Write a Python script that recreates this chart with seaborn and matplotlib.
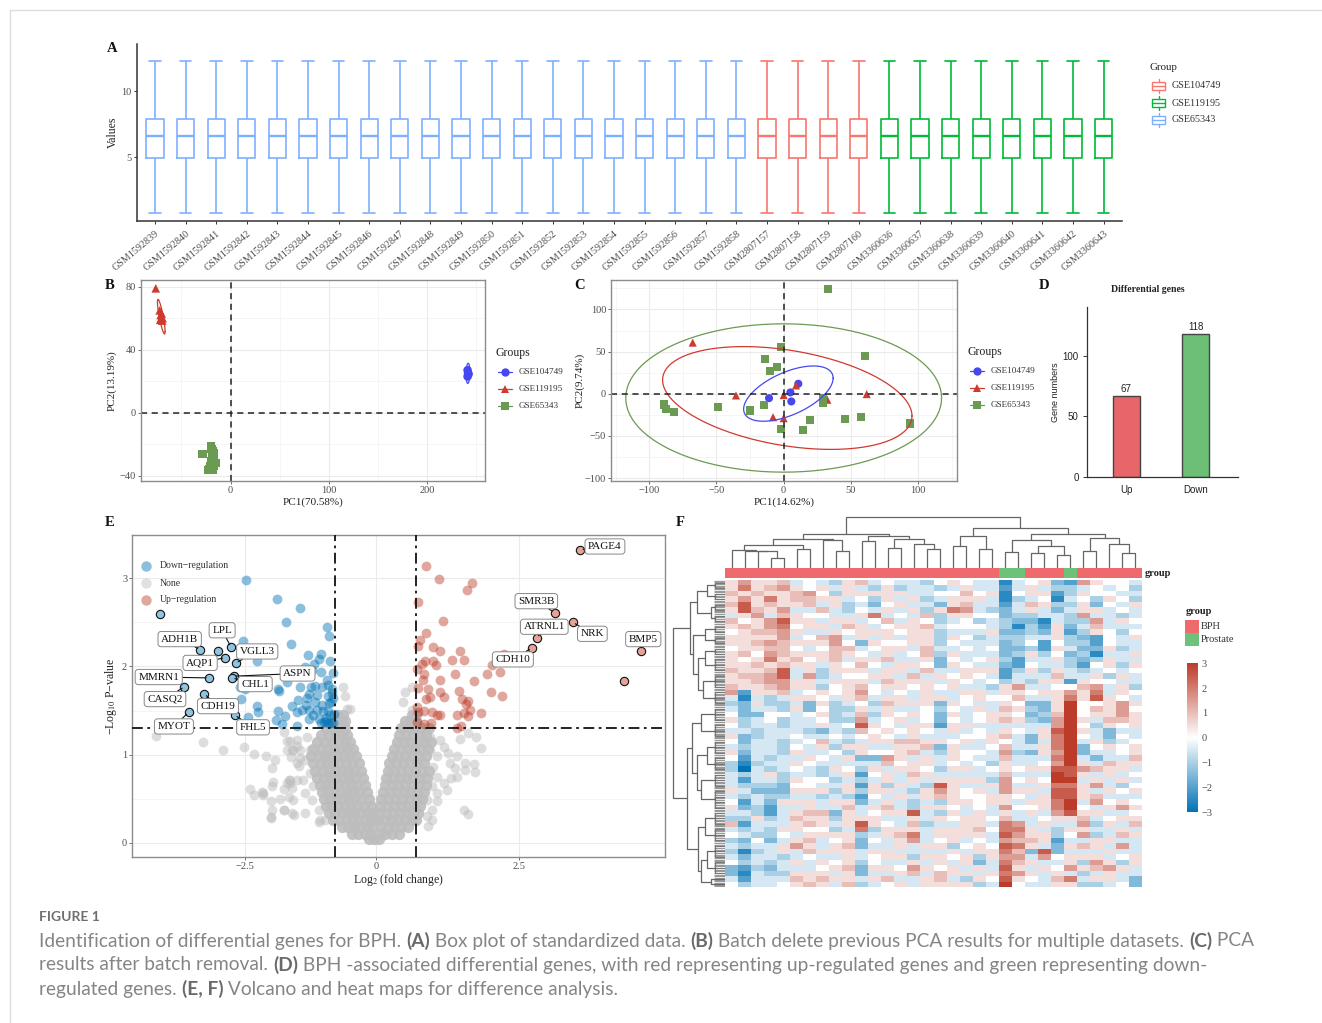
import numpy as np
import pandas as pd
import matplotlib
matplotlib.use('Agg')
import matplotlib.pyplot as plt
import seaborn as sns
from matplotlib.colors import LinearSegmentedColormap, ListedColormap
from matplotlib.patches import Rectangle

W, H = 1322, 1023

# panel A
samples_a = ['GSM15928%02d' % i for i in [39, 40, 41, 42, 43, 44, 45, 46, 47, 48, 49, 50, 51, 52, 53, 54, 55, 56, 57, 58]]
samples_a += ['GSM2807157', 'GSM2807158', 'GSM2807159', 'GSM2807160']
samples_a += ['GSM3360636', 'GSM3360637', 'GSM3360638', 'GSM3360639', 'GSM3360640', 'GSM3360641', 'GSM3360642', 'GSM3360643']
groups_a = ['GSE65343'] * 20 + ['GSE104749'] * 4 + ['GSE119195'] * 8
box_stats = [0.8, 4.92, 6.62, 7.87, 12.26]

# panel B
b_blue_x = [241, 241.5, 241, 242]
b_blue_y = [27, 25, 23, 24.5]
b_red_x = [-76, -72, -71, -70.5, -69, -71.5, -70, -69.5]
b_red_y = [79, 65, 62, 60, 60, 59, 63, 58.5]
b_green_x = [-28.2, -22.8, -20, -19.4, -19, -18, -19, -18, -20, -17, -16, -17, -19, -18, -20, -22, -21, -19, -15.5, -17]
b_green_y = [-26.2, -36.4, -21.6, -23, -25, -24.8, -27.9, -28, -31, -30, -32, -34, -33.2, -36, -35, -36, -34, -29, -32, -26]

# panel C
c_blue_x = [10.9, 5, 5.7, -10.9]
c_blue_y = [11.9, 1.6, -9.1, -5.2]
c_red_x = [-67.7, -35.5, 0, -7.9, 0, 9.2, 32.5, 61.8]
c_red_y = [60.7, -2, -1.6, -27.8, -29, 9.9, -7.1, -0.4]
c_green_x = [32.8, -1.7, -13.6, -10.4, -4.7, 60.8, -89.3, -87.3, -81.6, -48.6, -24.8, -14.9, -1.7, 14.1, 19.4, 45.9, 57.8, 94, 29.3, 29.3]
c_green_y = [124.6, 56, 40.9, 27, 31.7, 44.4, -12.7, -18.3, -21.4, -15.9, -19.8, -13.5, -41.7, -43.3, -30.6, -29.4, -27.8, -35.3, -4.8, -10.7]

# panel D
d_cats = ['Up', 'Down']
d_vals = [67, 118]

# panel E
gray_levels = [1.45, 1.38, 1.3, 1.22, 1.14, 1.06, 0.98, 0.9, 0.82, 0.74, 0.66, 0.58, 0.5, 0.42, 0.34, 0.26, 0.18, 0.1, 0.04]
gray_left = [
    [-.72, -.64], [-.78, -.68, -.6], [-.95, -.82, -.7, -.6], [-1.05, -.9, -.78, -.66, -.55],
    [-1.12, -.98, -.85, -.72, -.6, -.5], [-1.2, -1.05, -.92, -.8, -.68, -.56, -.44],
    [-1.25, -1.1, -.98, -.86, -.74, -.62, -.5, -.38], [-1.2, -1.06, -.94, -.82, -.7, -.58, -.46, -.33],
    [-1.16, -1.02, -.9, -.78, -.66, -.54, -.42, -.29], [-1.12, -1.0, -.88, -.76, -.64, -.52, -.4, -.26],
    [-1.08, -.96, -.84, -.72, -.6, -.48, -.36, -.21], [-1.04, -.92, -.8, -.68, -.56, -.44, -.32, -.17],
    [-1.0, -.88, -.76, -.64, -.52, -.4, -.28, -.14], [-.96, -.84, -.72, -.6, -.48, -.36, -.24, -.1],
    [-.9, -.78, -.66, -.54, -.42, -.3, -.18, -.07], [-.82, -.7, -.58, -.46, -.34, -.22, -.1, -.04],
    [-.66, -.54, -.42, -.3, -.18, -.08], [-.46, -.34, -.22, -.1], [-.14, -.05]]
gray_right = [
    [.62, .7], [.5, .6, .7], [.44, .56, .68, .8, .92], [.4, .52, .64, .76, .88],
    [.36, .48, .6, .72, .84, .96], [.31, .43, .55, .67, .79, .91], [.27, .39, .51, .63, .75, .87],
    [.23, .35, .47, .59, .71, .83], [.2, .32, .44, .56, .68, .8, .92], [.17, .29, .41, .53, .65, .77, .89],
    [.15, .27, .39, .51, .63, .75, .87], [.12, .24, .36, .48, .6, .72, .84], [.09, .21, .33, .45, .57, .69, .81],
    [.07, .19, .31, .43, .55, .67, .77], [.05, .17, .29, .41, .53, .65, .73], [.03, .15, .27, .39, .51, .63, .7],
    [.08, .2, .32, .44, .56], [.06, .16, .28, .4], [.05]]
gray_x = [-4.2, -3.3, -2.93, -2.52, -2.33, -2.1, -1.93, -1.98, -2.41, -2.33, -2.16, -2.16, -1.98, -1.97, -2.0, -1.98, -2.01,
          -1.83, -1.75, -1.76, -1.66, -1.65, -1.7, -1.61, -1.67, -1.56, -1.59, -1.51, -1.7, -1.58, -1.63, -1.65, -1.76, -1.51,
          -1.51, -1.45, -1.7, -1.61, -1.51, -1.32, -1.45, -1.36, -1.26, -1.48, -1.39, -1.26, -1.2, -1.36, -1.23, -1.1, -1.07,
          -.97, -1.36, -1.1, -1.64, -1.61, -1.75, -2.01, -2.17, -.56, -.59, -.63, -.5,
          .94, 1.12, 1.46, 1.61, 1.74, 1.84, 1.18, 1.26, 1.41, 1.29, 1.56, 1.71, 1.38, 1.56, 1.73, 1.41, 1.3, 1.18, 1.06, 1.0,
          1.06, .94, 1.24, 1.06, .97, .89, 1.06, .97, .89, .97, .91, 1.53, 1.6, .82, .51, .47, .62, .62, .48]
gray_y = [1.21, 1.14, 1.05, 1.09, 1.01, .98, .94, .85, .61, .54, .57, .54, .65, .69, .47, .37, .29,
          .5, .37, .61, .71, .68, .68, .62, .52, .32, .49, .71, 1.05, 1.05, .97, 1.15, 1.26, .9,
          1.1, .96, 1.15, 1.05, 1.17, 1.2, 1.05, .94, 1.05, .87, .71, .79, .64, .56, .49, .37, .26,
          .26, .34, .24, .71, .34, .37, .28, .58, 1.52, 1.66, 1.77, 1.52,
          1.2, 1.17, 1.18, 1.24, 1.2, 1.08, 1.09, 1.02, .99, .9, .91, .89, .85, .83, .8, .75, .73, .68, .75, .86,
          .98, 1.05, .6, .56, .64, .49, .47, .37, .3, .26, .19, .37, .33, 1.17, 1.71, 1.6, 1.77, 1.51, 1.35]
down_x = [-2.49, -1.9, -1.46, -1.73, -.93, -.9, -2.54, -1.62, -1.31, -1.05, -1.1, -.89, -1.18, -2.27, -1.35, -1.23, -1.06, -.82,
          -.93, -1.7, -2.6, -2.5, -1.88, -1.86, -1.46, -1.25, -1.16, -1.04, -.91, -.85, -1.29, -1.13, -.91, -.83, -1.5, -1.32,
          -1.16, -1.61, -1.34, -1.04, -.86, -2.58, -2.28, -2.25, -2.45, -1.88, -1.74, -1.91, -1.79, -1.51, -1.42, -1.29, -1.13,
          -1.01, -.91, -1.28, -1.51, -1.1, -.99, -.91, -.83, -.96, -.85, -.88, -.95, -1.05, -.8, -.9, -1.2, -.86]
down_y = [2.98, 2.77, 2.66, 2.5, 2.45, 2.35, 2.29, 2.26, 2.13, 2.14, 2.09, 2.06, 2.03, 2.06, 1.99, 1.96, 1.94, 1.93,
          1.85, 1.82, 1.77, 1.75, 1.75, 1.72, 1.77, 1.77, 1.78, 1.77, 1.79, 1.75, 1.69, 1.68, 1.66, 1.64, 1.62, 1.64,
          1.6, 1.55, 1.56, 1.56, 1.6, 1.63, 1.55, 1.48, 1.43, 1.5, 1.44, 1.39, 1.35, 1.48, 1.51, 1.51, 1.51,
          1.49, 1.49, 1.4, 1.33, 1.4, 1.37, 1.36, 1.36, 1.41, 1.7, 1.45, 1.38, 1.36, 1.46, 1.58, 1.45, 1.36]
up_x = [.87, 1.09, 1.68, 1.58, .74, 1.17, .88, .77, .73, 1.0, 1.11, 1.47, .85, .81, 1.0, 1.04, 1.32, 1.53, .72, .84, 1.38,
        2.03, 2.23, 2.17, 1.94, 1.71, 1.11, .82, .74, .9, 1.12, 1.44, 2.0, 2.2, .94, .87, 1.19, 1.5, 1.61, 1.57, .71, .84,
        .74, .98, 1.07, 1.11, 1.42, 1.54, 1.64, 1.61, 1.84, .72, .96, .83, 1.49, 1.42]
up_y = [3.14, 2.99, 2.95, 2.87, 2.73, 2.51, 2.38, 2.3, 2.23, 2.22, 2.18, 2.18, 2.06, 2.03, 2.06, 2.02, 2.07, 2.07, 1.97, 1.91, 1.91,
        2.02, 2.14, 1.94, 1.92, 1.84, 1.85, 1.85, 1.76, 1.75, 1.71, 1.72, 1.71, 1.66, 1.65, 1.63, 1.65, 1.63, 1.61, 1.57, 1.54, 1.49,
        1.48, 1.48, 1.45, 1.45, 1.45, 1.47, 1.51, 1.44, 1.47, 1.37, 1.36, 1.35, 1.33, 1.3]
ringed_down_x = [-4.12, -3.36, -2.77, -2.68, -2.88, -3.01, -3.19, -2.72, -2.75, -3.66, -3.28, -3.58, -2.7]
ringed_down_y = [2.6, 2.19, 2.22, 2.04, 2.1, 2.17, 1.87, 1.89, 1.87, 1.77, 1.69, 1.48, 1.45]
ringed_up_x = [3.57, 3.12, 3.44, 2.81, 2.72, 4.63, 4.33]
ringed_up_y = [3.32, 2.61, 2.5, 2.32, 2.21, 2.18, 1.84]
gene_names = ['ADH1B', 'LPL', 'VGLL3', 'AQP1', 'MMRN1', 'ASPN', 'CHL1', 'CASQ2', 'CDH19', 'MYOT', 'FHL5',
              'PAGE4', 'SMR3B', 'NRK', 'ATRNL1', 'CDH10', 'BMP5']
gene_x = [-3.36, -2.77, -2.68, -2.88, -3.19, -2.72, -2.75, -3.66, -3.28, -3.58, -2.7, 3.57, 3.12, 3.44, 2.81, 2.72, 4.63]
gene_y = [2.19, 2.22, 2.04, 2.1, 1.87, 1.89, 1.87, 1.77, 1.69, 1.48, 1.45, 3.32, 2.61, 2.5, 2.32, 2.21, 2.18]
gene_label_x = [-3.75, -2.94, -2.27, -3.36, -4.15, -1.5, -2.31, -4.03, -3.02, -3.86, -2.35, 4.0, 2.8, 3.78, 2.94, 2.39, 4.67]
gene_label_y = [2.31, 2.41, 2.17, 2.04, 1.88, 1.92, 1.8, 1.63, 1.55, 1.32, 1.31, 3.36, 2.74, 2.37, 2.45, 2.08, 2.31]

# panel F, values in half z-score units
heat_rows = [
    [1,3,1,1,2,-1,0,-1,-2,1,2,-1,0,-1,-1,-2,0,1,0,-1,-1,-5,-1,0,1,-3,-4,3,1,0,0,-1],
    [1,4,1,2,3,1,0,1,-1,1,-1,-2,1,-2,-1,-1,-2,-1,1,-1,-1,-4,-1,1,-1,-2,-2,-1,0,-1,0,-2],
    [2,1,2,1,1,2,3,0,-2,1,1,1,1,1,-1,-1,0,0,2,0,1,-5,0,1,1,-4,-2,1,0,0,-1,-1],
    [1,3,1,4,1,2,2,1,1,-1,0,-2,1,-1,1,-2,-1,1,1,1,-1,-5,-2,-1,0,-5,-1,0,-2,1,0,-2],
    [2,5,1,2,1,1,2,-1,1,-2,-1,-3,0,1,-1,-1,-3,1,2,-1,-1,-4,-1,2,1,-2,-2,1,-3,0,-1,1],
    [1,5,2,1,3,-1,-1,2,-1,-2,0,-1,1,-1,1,-2,1,4,3,-1,-2,-3,-1,1,-1,-3,-1,1,1,-1,0,-1],
    [-1,1,3,-1,2,1,0,0,-1,-1,1,4,-1,0,-1,2,-2,1,1,0,0,-3,-2,-2,-1,-1,-2,3,-1,-1,-2,-1],
    [2,0,1,3,5,1,1,-1,1,1,-1,0,2,-1,1,0,-2,-1,0,-2,-1,-2,-3,-3,-5,-1,-2,-2,3,-1,1,0],
    [1,2,1,3,4,0,1,1,-1,2,1,-1,0,1,1,2,-1,0,0,0,-1,-2,-5,-2,-4,1,-3,-1,2,-1,-1,-1],
    [0,1,2,2,3,1,-1,-1,1,0,1,1,1,0,1,1,-2,-1,-1,-1,1,-3,-3,-2,-3,1,-4,-2,1,0,-2,0],
    [1,1,1,1,3,-1,0,2,3,-1,1,-1,1,-1,1,1,-2,1,0,-2,-1,-2,-2,-1,-1,1,-2,-3,-4,0,-1,1],
    [1,1,2,3,2,1,1,1,3,0,-3,1,0,0,1,1,-2,0,-1,-1,-1,-3,-2,0,-4,0,-2,-2,-4,0,-1,-1],
    [0,1,1,2,2,0,-1,0,2,2,-1,0,1,1,-1,2,-1,-1,0,-1,0,-3,-3,-2,-4,1,-1,-3,-3,1,-2,-1],
    [1,2,0,3,2,1,1,1,2,1,0,-1,1,-1,0,2,-2,1,-1,-1,-1,-3,-2,1,-2,0,-3,-2,-5,-1,-1,1],
    [1,0,1,4,1,2,0,1,2,-1,1,1,2,-1,-1,1,-3,0,-1,0,1,-2,-4,-1,-1,1,-2,-3,-2,1,-1,-1],
    [1,1,2,1,2,1,1,-1,1,0,2,0,-1,1,1,0,-3,1,0,-1,-1,-3,-4,0,-1,-1,-2,-4,0,1,-2,1],
    [2,1,1,2,5,-1,1,-2,1,1,1,-1,1,1,-1,2,-1,-1,1,1,1,-4,-2,1,-2,1,-1,-2,-1,0,-1,0],
    [1,2,2,3,5,-1,3,-2,-1,0,0,1,1,-1,2,-1,1,0,1,0,-1,-4,-1,-1,-1,2,-1,-1,1,-2,1,-1],
    [1,1,2,3,3,1,1,-1,1,1,1,-1,2,1,1,1,-1,1,0,-1,0,-2,-1,-2,1,1,-4,1,0,0,-1,-1],
    [2,1,1,2,3,1,1,-2,0,1,2,0,1,1,0,1,0,1,-1,-1,-2,1,3,-1,-1,0,0,2,3,-1,1,-2],
    [3,-4,1,1,2,-1,0,1,0,1,3,0,-1,0,-1,1,-1,-1,1,1,-1,1,1,0,1,1,3,1,4,-1,1,0],
    [-1,-5,-1,-2,-1,1,1,0,-1,1,2,-1,1,1,-1,1,1,-1,0,1,0,0,2,-1,-1,1,4,1,5,1,0,-1],
    [-2,-3,1,-2,-2,-1,-3,1,-2,-1,0,-2,2,1,1,1,-3,1,0,-1,-1,1,0,-3,-3,1,6,0,0,1,3,1],
    [-1,-3,-1,-1,-2,1,-3,0,-2,-2,1,-1,1,-1,-1,0,-2,0,-1,1,-1,2,1,-2,-3,1,6,0,2,1,3,0],
    [0,-3,-3,0,0,-1,0,1,-2,-1,2,-2,1,0,1,0,-3,1,-1,0,1,1,0,-3,-2,2,6,0,1,1,3,1],
    [1,-2,-1,0,-2,-1,-1,0,-2,-2,3,-1,0,1,-1,0,-3,0,-1,0,1,2,1,-2,-3,3,6,1,-1,2,2,1],
    [0,-2,-1,-1,-2,-1,-1,1,-1,0,5,1,0,-1,1,1,-4,1,1,-1,-1,-1,-1,-1,-1,3,6,0,-2,1,0,1],
    [-1,-1,-2,-1,-1,-1,-2,-3,-1,-2,2,0,1,0,1,0,-1,1,-1,0,-1,1,0,-1,1,5,6,1,-1,-3,-1,-1],
    [1,-3,-2,-1,-1,0,-1,-1,0,-1,0,1,0,-1,1,-1,-1,-1,0,0,1,2,-1,-3,1,4,6,0,-1,-3,0,-1],
    [0,-3,-1,-1,-2,-1,0,2,-1,-2,-1,1,1,2,2,1,1,0,1,-1,1,0,-1,-3,-1,4,6,-1,1,-2,-1,0],
    [-1,-2,-1,-1,-2,0,-1,1,-2,1,1,-1,-1,1,1,2,-3,1,-1,-1,0,2,-1,-1,1,4,6,-3,0,1,0,1],
    [1,-3,-1,-1,-2,1,-1,-1,0,-2,1,0,0,1,2,-1,-2,1,0,0,-1,3,-2,-3,1,3,6,-3,-1,-1,0,1],
    [0,-4,-1,-2,-1,-1,1,0,-1,1,-3,-3,3,1,-1,1,-1,1,0,-1,-1,2,-1,-1,-1,4,6,-1,-3,-1,-1,2],
    [-2,-5,-2,-1,-1,1,0,-1,-1,-1,-1,-1,2,0,1,1,-1,0,-1,0,-2,1,-1,-1,0,3,6,1,-1,2,1,1],
    [-2,-6,-1,-2,-1,0,-1,-2,1,0,-2,1,-1,1,1,0,-2,1,1,-1,0,1,0,1,1,5,5,3,2,1,1,-1],
    [-1,-2,-1,1,-2,-1,-1,-2,-1,1,-4,0,1,-1,2,1,-1,-1,-1,-1,-1,2,-1,-1,-1,6,5,1,-1,1,-1,0],
    [-1,-4,-1,-1,-2,1,0,0,-2,-1,-2,-1,1,-1,1,-1,1,1,1,1,-2,3,0,1,0,6,6,-1,1,-1,1,-1],
    [-1,-2,-2,-2,-3,0,0,-1,-1,1,-4,1,-2,1,-1,-2,5,1,-1,-1,1,3,-1,-1,1,4,4,1,3,-1,-2,0],
    [1,-1,-3,-3,-3,1,1,1,-2,1,-2,1,1,-1,-2,1,3,1,0,1,-1,3,1,1,-1,5,5,1,-1,1,0,1],
    [-1,-2,-1,-2,-2,-1,-1,-2,-1,-2,-4,0,-1,1,-1,1,2,1,0,0,1,1,0,-1,1,5,5,1,2,-1,-1,-1],
    [0,-4,-1,-3,1,1,1,-1,1,1,-3,-1,1,-1,-2,-1,-2,1,1,0,1,1,-1,1,1,4,6,-1,3,0,1,0],
    [1,-3,-2,-4,-1,-1,1,-1,-1,2,-1,1,2,-1,-2,1,1,0,-1,0,-1,3,0,0,1,4,6,0,-1,1,3,1],
    [-1,-1,-2,-4,-1,1,2,2,-3,1,-1,0,1,1,5,-1,-2,1,-1,1,-1,1,-1,1,-1,3,5,1,1,-1,-1,0],
    [-2,-2,1,-2,-1,2,1,1,-2,1,1,1,-1,-1,1,-1,1,0,1,1,0,2,-1,-1,0,1,1,2,-1,0,1,1],
    [2,-4,-1,-1,-1,1,2,1,-1,1,5,1,0,-1,2,-2,-1,-1,1,1,-1,4,3,-1,1,-1,-1,3,-2,1,-1,2],
    [-1,-2,-1,-2,1,1,0,0,-2,-1,4,-2,1,1,1,-1,1,1,1,2,0,4,4,1,-1,-2,1,1,-1,-1,1,-1],
    [0,-1,-2,-2,0,-1,1,1,1,1,-2,-1,1,2,4,-1,1,1,1,1,-1,5,3,1,1,-2,0,3,-2,-1,2,1],
    [-2,-3,0,-3,-1,1,2,-1,0,1,-3,0,-1,1,3,-1,0,1,-1,0,-1,3,2,2,1,-4,-1,-1,1,1,-1,-1],
    [-1,-2,-1,-1,1,3,1,-1,1,2,-3,-1,-1,1,-1,1,1,-2,0,1,0,5,4,1,-1,-3,1,2,1,-1,3,-1],
    [-2,-5,-2,-1,1,-1,2,1,1,1,-1,1,1,-1,-1,-1,-1,1,-1,1,1,4,2,-3,5,-3,-1,-1,-1,1,-1,-1],
    [-1,-3,-1,-1,-2,-1,0,-1,-1,1,-1,0,1,1,-2,1,1,0,1,-2,1,3,3,-1,3,0,1,1,1,-1,0,1],
    [0,-2,-1,-2,-1,1,-1,1,0,1,-2,0,-1,-1,1,-1,1,-1,1,-3,-1,4,2,1,-1,-1,1,-2,3,1,-2,1],
    [-3,-4,-2,-3,-1,-1,-1,0,1,2,-3,1,1,0,3,1,0,1,-1,1,-1,5,1,-1,1,0,3,1,2,3,1,-1],
    [-3,-5,-1,-2,-2,1,1,1,-1,1,-3,-1,-1,1,2,-1,2,1,1,-1,1,4,3,1,-1,1,-1,-2,-1,1,-1,-1],
    [-1,-4,-1,-1,-1,2,1,2,1,1,-1,1,2,-1,-1,1,2,-1,-2,1,0,5,1,0,-1,2,4,-1,1,1,-1,-3],
    [0,-2,-1,-1,0,1,2,1,-1,2,-2,-1,0,1,-1,1,1,1,1,-2,-1,6,0,-1,-1,1,1,-2,-2,-1,0,-3],
]
sample_groups_f = [0] * 21 + [1, 1] + [0] * 3 + [1] + [0] * 5
n_genes = 185

# dendrogram merges as (height, child, child), a leaf is a (first, last) index range
col_tree = (51,
    (34,
        (28.5,
            (23,
                (18, 0, (16.5, 1, (16.5, 2, (9.5, 3, 4)))),
                (18.5, 5, 6)),
            (28, 7, (16.5, 8, 9))),
        (32,
            (26.5, 10, 11),
            (29, (20, 12, 13), (24, 14, (19, 15, 16))))),
    (40,
        (32, (22, 17, 18), (19, 19, 20)),
        (34,
            (28, (16, 21, 22), (22, (15, 23, 24), (13, 25, 26))),
            (30, (17, 27, 28), (24, 29, (15, 30, 31))))))
row_tree = (52,
    (35,
        (28, (18, (0, 1), (2, 3)), (14, (4, 5), (6, 7))),
        (32, (20, (8, 9), (10, 11)), (27, (20, (12, 13), (14, 16)), (22, (17, 19), (20, 22))))),
    (38,
        (33, (24, (23, 25), (26, 28)), (28, (18, (29, 31), (32, 34)), (24, (35, 37), (38, 41)))),
        (27, (20, (42, 44), (45, 47)), (24, (18, (48, 50), (51, 53)), (14, (54, 54), (55, 55))))))

caption_lines = [
    [('Identification of differential genes for BPH. ', 0), ('(A)', 1), (' Box plot of standardized data. ', 0), ('(B)', 1),
     (' Batch delete previous PCA results for multiple datasets. ', 0), ('(C)', 1), (' PCA', 0)],
    [('results after batch removal. ', 0), ('(D)', 1), (' BPH -associated differential genes, with red representing up-regulated genes and green representing down-', 0)],
    [('regulated genes. ', 0), ('(E, F)', 1), (' Volcano and heat maps for difference analysis.', 0)],
]

GROUP_COLORS = {'GSE104749': '#F8766D', 'GSE119195': '#00BA38', 'GSE65343': '#7FB0FF'}
PCA_COLORS = {'GSE104749': '#4747F0', 'GSE119195': '#CF3A2E', 'GSE65343': '#6B9A52'}
PCA_MARKERS = {'GSE104749': 'o', 'GSE119195': '^', 'GSE65343': 's'}
DOWN, UP, NONE = '#0072B5', '#BC3C29', '#BDBDBD'
TICK_GRAY = '#4d4d4d'

sns.set_theme(style='white')
plt.rcParams['font.family'] = ['Liberation Serif', 'DejaVu Sans']
plt.rcParams['mathtext.fontset'] = 'stix'
plt.rcParams['axes.unicode_minus'] = True

fig = plt.figure(figsize=(W / 100, H / 100), dpi=100)


def px_axes(x0, y0, x1, y1):
    return fig.add_axes([x0 / W, 1 - y1 / H, (x1 - x0) / W, (y1 - y0) / H])


def style_bw(ax, major_x, major_y, minor_x, minor_y):
    ax.set_xticks(major_x)
    ax.set_yticks(major_y)
    ax.set_xticks(minor_x, minor=True)
    ax.set_yticks(minor_y, minor=True)
    ax.grid(True, which='major', color='#ebebeb', lw=0.8)
    ax.grid(True, which='minor', color='#f2f2f2', lw=0.5)
    ax.set_axisbelow(True)
    ax.tick_params(which='major', length=2, width=0.6, color='#555555', labelsize=7.5, labelcolor=TICK_GRAY, pad=1.5,
                   bottom=True, left=True)
    ax.tick_params(which='minor', length=0)
    for s in ax.spines.values():
        s.set_color('#8c8c8c')
        s.set_linewidth(1.0)


def ellipse(ax, cx, cy, sx, sy, rho, color):
    t = np.linspace(0, 2 * np.pi, 200)
    ax.plot(cx + sx * np.cos(t), cy + sy * (rho * np.cos(t) + np.sqrt(1 - rho ** 2) * np.sin(t)), color=color, lw=0.9)


def pca_frame(blue, red, green):
    rows = [('GSE104749', blue), ('GSE119195', red), ('GSE65343', green)]
    return pd.concat([pd.DataFrame({'PC1': xy[0], 'PC2': xy[1], 'Groups': g}) for g, xy in rows])


# A
ax_a = px_axes(137, 44, 1122, 221)
df_a = pd.DataFrame([{'Sample': s, 'Group': g, 'Values': v} for s, g in zip(samples_a, groups_a) for v in box_stats])
sns.boxplot(data=df_a, x='Sample', y='Values', hue='Group', palette=GROUP_COLORS, fill=False, dodge=False, width=0.56,
            linewidth=1.2, fliersize=0, legend=False, ax=ax_a, capwidths=0.38, medianprops={'linewidth': 1.7})
ax_a.set_xlim(-0.59, 31.6)
ax_a.set_ylim(0.19, 13.55)
ax_a.set_yticks([5, 10])
ax_a.set_xlabel('')
ax_a.set_ylabel('Values', fontsize=8.5, labelpad=2, color='#222222')
ax_a.tick_params(length=2.5, width=0.7, color='#333333', labelsize=7.5, labelcolor=TICK_GRAY, pad=1.5, bottom=True, left=True)
ax_a.tick_params(axis='x', labelsize=7.3, pad=3)
plt.setp(ax_a.get_xticklabels(), rotation=40, ha='right', rotation_mode='anchor')
sns.despine(ax=ax_a)
for side in ['left', 'bottom']:
    ax_a.spines[side].set_color('#333333')
    ax_a.spines[side].set_linewidth(1.1)

# B
ax_b = px_axes(141, 280, 485, 481)
df_b = pca_frame((b_blue_x, b_blue_y), (b_red_x, b_red_y), (b_green_x, b_green_y))
ax_b.set_xlim(-91, 258.7)
ax_b.set_ylim(-43.4, 84.3)
style_bw(ax_b, [0, 100, 200], [-40, 0, 40, 80], [-50, 50, 150, 250], [-20, 20, 60])
sns.scatterplot(data=df_b, x='PC1', y='PC2', hue='Groups', style='Groups', palette=PCA_COLORS, markers=PCA_MARKERS,
                s=38, linewidth=0, legend=False, ax=ax_b)
ellipse(ax_b, -70.4, 61, 3.9, 11, -0.85, PCA_COLORS['GSE119195'])
ellipse(ax_b, 241.4, 25, 2, 6.4, 0.1, PCA_COLORS['GSE104749'])
ellipse(ax_b, -19, -29, 3, 9, 0.1, PCA_COLORS['GSE65343'])
ax_b.axhline(0, color='#222222', lw=1.1, ls=(0, (4, 3)))
ax_b.axvline(0, color='#222222', lw=1.1, ls=(0, (4, 3)))
ax_b.set_xlabel('PC1(70.58%)', fontsize=8, labelpad=1.5, color='#222222')
ax_b.set_ylabel('PC2(13.19%)', fontsize=8, labelpad=2, color='#222222')

# C
ax_c = px_axes(611, 280, 957, 481)
df_c = pca_frame((c_blue_x, c_blue_y), (c_red_x, c_red_y), (c_green_x, c_green_y))
ax_c.set_xlim(-128.5, 129)
ax_c.set_ylim(-103.5, 135)
style_bw(ax_c, [-100, -50, 0, 50, 100], [-100, -50, 0, 50, 100], [-125, -75, -25, 25, 75, 125], [-75, -25, 25, 75, 125])
sns.scatterplot(data=df_c, x='PC1', y='PC2', hue='Groups', style='Groups', palette=PCA_COLORS, markers=PCA_MARKERS,
                s=34, linewidth=0, legend=False, ax=ax_c)
ellipse(ax_c, 0, -5, 117.5, 88, 0.0, PCA_COLORS['GSE65343'])
ellipse(ax_c, 2.7, -5, 92.8, 61, -0.35, PCA_COLORS['GSE119195'])
ellipse(ax_c, 3.5, 0.2, 33.3, 32.8, 0.56, PCA_COLORS['GSE104749'])
ax_c.axhline(0, color='#222222', lw=1.1, ls=(0, (4, 3)))
ax_c.axvline(0, color='#222222', lw=1.1, ls=(0, (4, 3)))
ax_c.set_xlabel('PC1(14.62%)', fontsize=8, labelpad=1.5, color='#222222')
ax_c.set_ylabel('PC2(9.74%)', fontsize=8, labelpad=0, color='#222222')

# D
ax_d = px_axes(1087, 307, 1238, 477)
sns.barplot(x=d_cats, y=d_vals, hue=d_cats, palette=['#E8666A', '#6DBF75'], saturation=1, width=0.39, edgecolor='#444444', linewidth=1.0,
            legend=False, ax=ax_d)
ax_d.set_xlim(-0.566, 1.61)
ax_d.set_ylim(0, 140)
ax_d.set_yticks([0, 50, 100])
for c in ax_d.containers:
    ax_d.bar_label(c, fontsize=7, padding=1, family='Liberation Sans', color='#222222')
ax_d.set_ylabel('Gene numbers', fontsize=6.5, family='Liberation Sans', labelpad=2, color='#222222')
ax_d.tick_params(length=3, width=0.7, color='#333333', labelsize=7, pad=3, left=True, bottom=False, labelcolor='#222222')
for lab in ax_d.get_xticklabels() + ax_d.get_yticklabels():
    lab.set_family('Liberation Sans')
sns.despine(ax=ax_d)
for side in ['left', 'bottom']:
    ax_d.spines[side].set_color('#333333')
    ax_d.spines[side].set_linewidth(0.9)

# E
ax_e = px_axes(132, 535, 665, 857)
ax_e.set_xscale('function', functions=(lambda v: np.where(v < 0, v * 52.4, v * 57.2), lambda v: np.where(v < 0, v / 52.4, v / 57.2)))
ax_e.set_xlim(-4.66, 5.05)
ax_e.set_ylim(-0.16, 3.49)
style_bw(ax_e, [-2.5, 0, 2.5], [0, 1, 2, 3], [], [0.5, 1.5, 2.5])
ax_e.set_xticklabels(['\u22122.5', '0', '2.5'])
cloud_x = [v for row in gray_left + gray_right for v in row]
cloud_y = [lv for lv, row in zip(gray_levels, gray_left) for _ in row] + [lv for lv, row in zip(gray_levels, gray_right) for _ in row]
sns.scatterplot(x=gray_x, y=gray_y, color=NONE, alpha=0.5, s=50, linewidth=0, ax=ax_e)
sns.scatterplot(x=cloud_x, y=cloud_y, color=NONE, alpha=0.9, s=66, linewidth=0, ax=ax_e)
sns.scatterplot(x=down_x, y=down_y, color=DOWN, alpha=0.45, s=50, linewidth=0, ax=ax_e)
sns.scatterplot(x=up_x, y=up_y, color=UP, alpha=0.45, s=50, linewidth=0, ax=ax_e)
sns.scatterplot(x=ringed_down_x, y=ringed_down_y, color='#8FC3E0', edgecolor='#111111', s=36, linewidth=0.8, ax=ax_e, zorder=5)
sns.scatterplot(x=ringed_up_x, y=ringed_up_y, color='#E5A398', edgecolor='#111111', s=36, linewidth=0.8, ax=ax_e, zorder=5)
dash = (0, (6, 2.5, 1.5, 2.5))
ax_e.axhline(1.3, color='#111111', lw=1.3, ls=dash, zorder=4)
ax_e.axvline(-0.78, color='#111111', lw=1.3, ls=dash, zorder=4)
ax_e.axvline(0.7, color='#111111', lw=1.3, ls=dash, zorder=4)
for name, x, y, lx, ly in zip(gene_names, gene_x, gene_y, gene_label_x, gene_label_y):
    ax_e.annotate(name, xy=(x, y), xytext=(lx, ly), textcoords='data', ha='center', va='center', fontsize=8, color='#111111', zorder=6,
                  bbox=dict(boxstyle='round,pad=0.28', fc='white', ec='#888888', lw=0.7),
                  arrowprops=dict(arrowstyle='-', color='#111111', lw=0.8, shrinkA=0, shrinkB=2))
ax_e.set_xlabel('Log$_2$ (fold change)', fontsize=8.5, labelpad=1, color='#222222')
ax_e.set_ylabel('\u2212Log$_{10}$ P\u2212value', fontsize=8.5, labelpad=2, color='#222222')


# F
def draw_tree(ax, node, horizontal):
    # returns (leaf centre, height) of the node
    if not isinstance(node, tuple):
        return node + 0.5, 0
    if len(node) == 2:
        first, last = node
        d = 10 if last > first else 0
        for i in range(first, last + 1):
            ax.plot([0, d], [i + 0.5, i + 0.5], color='#777777', lw=0.7)
        ax.plot([d, d], [first + 0.5, last + 0.5], color='#777777', lw=0.9)
        return (first + last + 1) / 2, d
    h, left, right = node
    c1, h1 = draw_tree(ax, left, horizontal)
    c2, h2 = draw_tree(ax, right, horizontal)
    xs, ys = [c1, c1, c2, c2], [h1, h, h, h2]
    if horizontal:
        ax.plot(xs, ys, color='#666666', lw=0.9)
    else:
        ax.plot(ys, xs, color='#666666', lw=0.9)
    return (c1 + c2) / 2, h


ax_heat = px_axes(725, 580, 1142, 887)
ax_cbar = px_axes(1187.3, 663.3, 1197.7, 812.3)
heat_cmap = LinearSegmentedColormap.from_list('bwr_nejm', [DOWN, '#ffffff', UP])
sns.heatmap(pd.DataFrame(heat_rows) / 2, cmap=heat_cmap, vmin=-3, vmax=3, ax=ax_heat, cbar_ax=ax_cbar, xticklabels=False, yticklabels=False)
ax_cbar.set_yticks([-3, -2, -1, 0, 1, 2, 3])
ax_cbar.tick_params(length=0, labelsize=7.5, labelcolor=TICK_GRAY, pad=3)

ax_bar = px_axes(725, 567.5, 1142, 577.7)
sns.heatmap([sample_groups_f], cmap=ListedColormap(['#EE6A6C', '#6EC178']), vmin=0, vmax=1, cbar=False, ax=ax_bar,
            xticklabels=False, yticklabels=False)

ax_top = px_axes(725, 512, 1142, 567.5)
draw_tree(ax_top, col_tree, True)
ax_top.set_xlim(0, 32)
ax_top.set_ylim(0, 55.5)
ax_top.axis('off')

ax_left = px_axes(670, 580, 725, 887)
ax_left.hlines((np.arange(n_genes) + 0.5) * len(heat_rows) / n_genes, 0, 11, color='#999999', lw=0.9)
draw_tree(ax_left, row_tree, False)
ax_left.set_xlim(55, 0)
ax_left.set_ylim(len(heat_rows), 0)
ax_left.axis('off')

# text, legends and caption in pixel positions
ov = fig.add_axes([0, 0, 1, 1], zorder=20)
ov.set_xlim(0, W)
ov.set_ylim(H, 0)
ov.axis('off')
ov.patch.set_alpha(0)
for letter, x, y in [('A', 112, 48), ('B', 110, 285), ('C', 580, 285), ('D', 1044, 285), ('E', 110, 522), ('F', 680, 522)]:
    ov.text(x, y + 0.5, letter, fontsize=10.5, fontweight='bold', ha='center', va='center', color='#111111')
ov.text(1147.7, 289, 'Differential genes', fontsize=7, fontweight='bold', ha='center', va='center', color='#222222')
ov.text(1150, 68, 'Group', fontsize=7.8, va='center', color='#222222')
for name, y in zip(['GSE104749', 'GSE119195', 'GSE65343'], [86, 103, 120]):
    col = GROUP_COLORS[name]
    ov.add_patch(Rectangle((1152, y - 4), 13, 8, fc='none', ec=col, lw=1.0))
    ov.plot([1152, 1165], [y, y], color=col, lw=1.0)
    ov.plot([1158.5, 1158.5], [y - 7, y - 4], color=col, lw=1.0)
    ov.plot([1158.5, 1158.5], [y + 4, y + 7], color=col, lw=1.0)
    ov.text(1172, y, name, fontsize=7.3, va='center', color='#333333')
for title_x, key_x, text_x, ys, title_y in [(496, 505, 519, [372, 389, 406], 353), (968, 977, 991, [371, 388, 405], 352)]:
    ov.text(title_x, title_y, 'Groups', fontsize=8.5, va='center', color='#222222')
    for name, y in zip(['GSE104749', 'GSE119195', 'GSE65343'], ys):
        col = PCA_COLORS[name]
        ov.plot([key_x - 7, key_x + 7], [y, y], color=col, lw=0.9)
        ov.plot([key_x], [y], marker=PCA_MARKERS[name], color=col, ms=6, mew=0)
        ov.text(text_x, y, name, fontsize=6.6, va='center', color='#333333')
for name, col, y in [('Down\u2212regulation', DOWN, 566), ('None', NONE, 583), ('Up\u2212regulation', UP, 600)]:
    ov.plot([146], [y], marker='o', color=col, ms=7.5, mew=0, alpha=0.45)
    ov.text(160, y, name, fontsize=7, va='center', color='#333333')
ov.text(1145, 574, 'group', fontsize=7.5, fontweight='bold', va='center', color='#222222')
ov.text(1185.7, 611.7, 'group', fontsize=7.5, fontweight='bold', va='center', color='#222222')
for name, col, y in [('BPH', '#EE6A6C', 620), ('Prostate', '#6EC178', 633)]:
    ov.add_patch(Rectangle((1185, y), 13.5, 13, fc=col, ec='none'))
    ov.text(1201, y + 6.5, name, fontsize=7.5, va='center', color='#333333')

# frame of the page
ov.plot([9.5, 9.5], [9.5, H], color='#dddddd', lw=1.0)
ov.plot([9.5, W], [9.5, 9.5], color='#dddddd', lw=1.0)

ov.text(39, 917, 'FIGURE 1', fontsize=10, fontfamily='Lato', fontweight='bold', color='#6f6f6f', va='center')
renderer = fig.canvas.get_renderer()
for parts, y in zip(caption_lines, [941, 965, 989]):
    x = 39
    for chunk, bold in parts:
        t = ov.text(x, y, chunk, fontsize=13.8, fontfamily='Lato', fontweight='bold' if bold else 'normal',
                    color='#6a6a6a' if bold else '#858585', va='center')
        x += t.get_window_extent(renderer).width

fig.savefig('out.png', dpi=100)
